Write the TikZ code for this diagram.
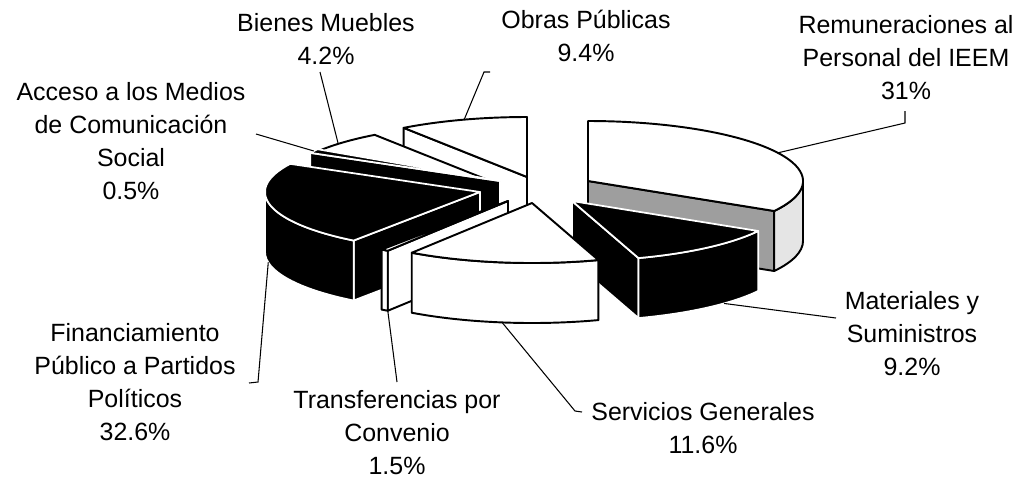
\documentclass[tikz,border=0pt]{standalone}
\usepackage{fontspec}
\setmainfont{Liberation Sans}
\usetikzlibrary{calc}

% point on the rim of a slice, seen from its apex
\newcommand\rim[1]{({215*cos(#1)},{60*sin(#1)})}
\newcommand\dep{60}

% one exploded slice: apex, start angle, end angle, top, cut face, outer side
\newcommand\pieslice[6]{%
  \begin{scope}[shift={(#1)}]
    \pgfmathtruncatemacro\showa{cos(#2)>-0.01}
    \pgfmathtruncatemacro\showb{cos(#3)<-0.01}
    \pgfmathsetmacro\sidea{max(#2,180)}
    \pgfmathsetmacro\sideb{min(#3,360)}
    \pgfmathtruncatemacro\showc{\sidea<\sideb}
    \ifnum\showa=1 \path[#5] (0,0) -- \rim{#2} -- ++(0,-\dep) -- (0,-\dep) -- cycle; \fi
    \ifnum\showb=1 \path[#5] (0,0) -- \rim{#3} -- ++(0,-\dep) -- (0,-\dep) -- cycle; \fi
    \ifnum\showc=1 \path[#6] \rim{\sidea} arc[start angle=\sidea, end angle=\sideb, x radius=215, y radius=60]
      -- ++(0,-\dep) arc[start angle=\sideb, end angle=\sidea, x radius=215, y radius=60] -- cycle; \fi
    \path[#4] (0,0) -- \rim{#2} arc[start angle=#2, end angle=#3, x radius=215, y radius=60] -- cycle;
  \end{scope}}

\tikzset{
  blk/.style={fill=black, draw=white, line width=1pt, line join=round},
  wht/.style={fill=white, draw=black, line width=1.1pt, line join=round},
  cutgray/.style={fill=black!38, draw=black, line width=1.1pt, line join=round},
  sidegray/.style={fill=black!10, draw=black, line width=1.1pt, line join=round},
  leader/.style={line width=0.6pt},
  lbl/.style={align=center, inner sep=0pt, font=\fontsize{14.2}{18.8}\selectfont}
}

\begin{document}
\begin{tikzpicture}[x=0.02cm, y=0.02cm]
  \useasboundingbox (0,0) rectangle (1016,-478);

  % apex of each slice
  \coordinate (obras) at (527,-177);
  \coordinate (remun) at (588,-181);
  \coordinate (bienes) at (498,-184);
  \coordinate (acceso) at (500,-181);
  \coordinate (financ) at (480,-192);
  \coordinate (mater) at (572,-201);
  \coordinate (transf) at (508,-201);
  \coordinate (servic) at (532,-203);

  % back to front
  \pieslice{obras}{90}{125}{wht}{wht}{wht}
  \pieslice{remun}{330}{450}{wht}{cutgray}{sidegray}
  \pieslice{bienes}{125}{148}{wht}{wht}{wht}
  \pieslice{acceso}{148}{152}{blk}{blk}{blk}
  \pieslice{financ}{152}{234}{blk}{blk}{blk}
  \pieslice{mater}{288}{330}{blk}{blk}{blk}
  \pieslice{transf}{234}{236}{wht}{wht}{wht}
  \pieslice{servic}{236}{288}{wht}{wht}{wht}

  % labels
  \node[lbl] (bieneslbl) at (326,-39.5) {Bienes Muebles\\4.2\%};
  \node[lbl] (obraslbl) at (586,-36) {Obras Públicas\\9.4\%};
  \node[lbl] (remunlbl) at (906,-57.5) {Remuneraciones al\\Personal del IEEM\\31\%};
  \node[lbl] (accesolbl) at (131,-141.5) {Acceso a los Medios\\de Comunicación\\Social\\0.5\%};
  \node[lbl] (materlbl) at (912,-334) {Materiales y\\Suministros\\9.2\%};
  \node[lbl] (serviclbl) at (703,-428.5) {Servicios Generales\\11.6\%};
  \node[lbl] (transflbl) at (397,-433) {Transferencias por\\Convenio\\1.5\%};
  \node[lbl] (financlbl) at (135,-382.5) {Financiamiento\\Público a Partidos\\Políticos\\32.6\%};

  % leader lines
  \coordinate (remuntip) at ($(remun)+(28:215 and 60)$);
  \coordinate (remunknee) at (905,-123);
  \coordinate (remunend) at (905,-111);
  \coordinate (obrastip) at ($(obras)+(107:215 and 60)$);
  \coordinate (obrasknee) at (484,-72);
  \coordinate (obrasend) at (490,-72);
  \coordinate (bienestip) at ($(bienes)+(138:215 and 60)$);
  \coordinate (bienesend) at (320,-72);
  \coordinate (accesotip) at ($(acceso)+(150:215 and 60)$);
  \coordinate (accesoend) at (256,-134);
  \coordinate (financtip) at ($(financ)+(190:215 and 60)+(0,-60)$);
  \coordinate (financknee) at (258,-382);
  \coordinate (financend) at (249,-383);
  \coordinate (transftip) at ($(transf)+(236:215 and 60)+(0,-60)$);
  \coordinate (transfend) at (397,-382);
  \coordinate (servictip) at ($(servic)+(262:215 and 60)+(0,-60)$);
  \coordinate (servicknee) at (575,-411);
  \coordinate (servicend) at (582,-412);
  \coordinate (matertip) at ($(mater)+(315:215 and 60)+(0,-60)$);
  \coordinate (materend) at (836,-318);

  \draw[leader] (remuntip) -- (remunknee) -- (remunend);
  \draw[leader] (obrastip) -- (obrasknee) -- (obrasend);
  \draw[leader] (bienestip) -- (bienesend);
  \draw[leader] (accesotip) -- (accesoend);
  \draw[leader] (financtip) -- (financknee) -- (financend);
  \draw[leader] (transftip) -- (transfend);
  \draw[leader] (servictip) -- (servicknee) -- (servicend);
  \draw[leader] (matertip) -- (materend);
\end{tikzpicture}
\end{document}
